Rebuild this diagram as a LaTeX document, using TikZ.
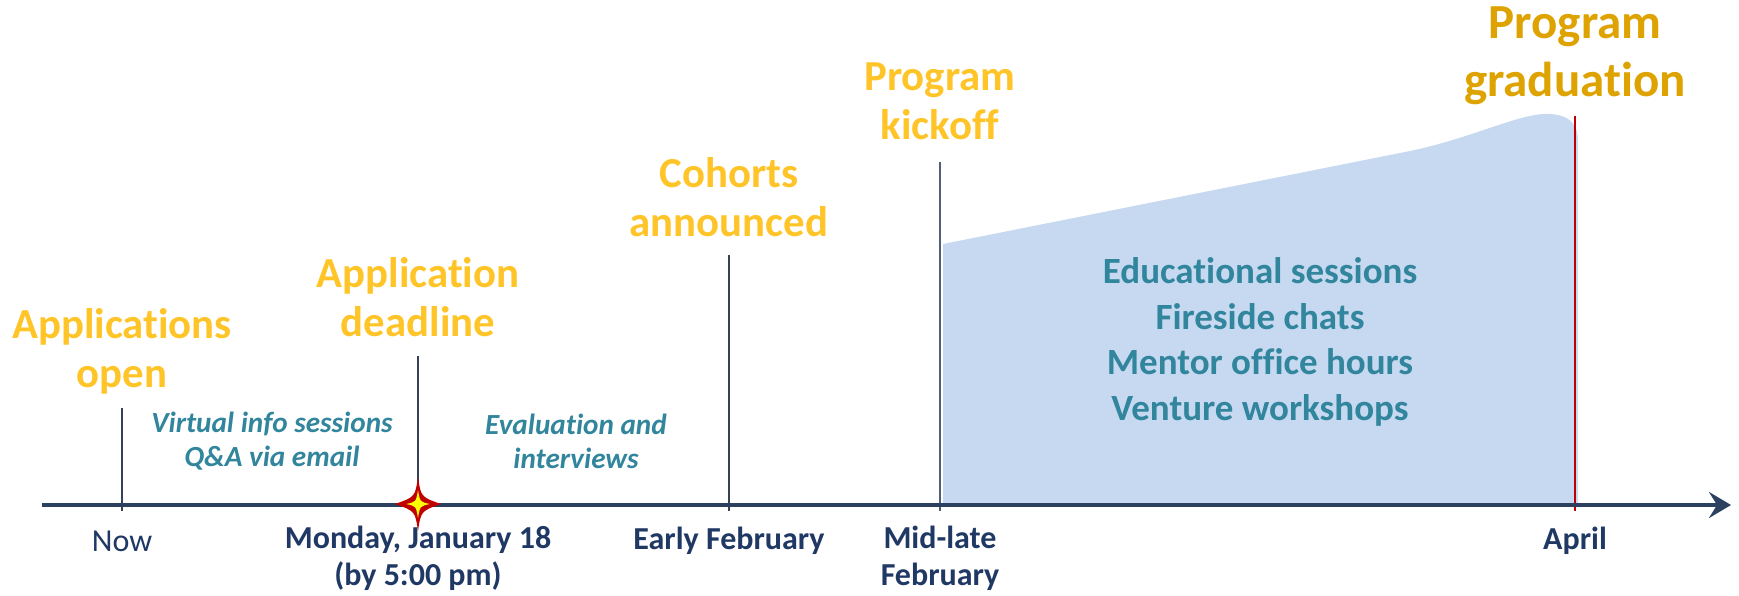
\documentclass[tikz,border=0pt]{standalone}
\usepackage{fontspec}
\setmainfont{Carlito}[Ligatures=NoCommon]
\usetikzlibrary{arrows.meta}
\definecolor{gold}{RGB}{255,196,40}
\definecolor{darkgold}{RGB}{222,163,0}
\definecolor{navy}{RGB}{31,56,100}
\definecolor{axiscol}{RGB}{44,64,96}
\definecolor{tealtext}{RGB}{49,133,156}
\definecolor{areafill}{RGB}{198,217,240}
\definecolor{tickcol}{RGB}{55,65,85}
\definecolor{starred}{RGB}{192,0,0}
\definecolor{staryellow}{RGB}{255,255,0}
\begin{document}
\begin{tikzpicture}[x=0.5pt,y=-0.5pt,
  milestone/.style={text=gold, font=\fontsize{21.4}{24.5}\selectfont\bfseries, align=center, inner sep=0},
  datelabel/.style={text=navy, font=\fontsize{16}{18.5}\selectfont\bfseries, align=center, inner sep=0},
  notetext/.style={text=tealtext, font=\fontsize{14.6}{17}\selectfont\bfseries\itshape, align=center, inner sep=0},
  activity/.style={text=tealtext, font=\fontsize{18.5}{22.8}\selectfont\bfseries, align=center, inner sep=0},
  tickline/.style={draw=tickcol, line width=0.7pt},
  axisline/.style={draw=axiscol, line width=2.3pt, -{Stealth[length=11pt,width=13pt,inset=4pt]}},
]
\useasboundingbox (0,0) rectangle (1739,595);

% program area
\path[fill=areafill] (943,505) -- (943,244) -- (1400,153)
  .. controls (1470,140) and (1520,112) .. (1550,114)
  .. controls (1570,115) and (1578,125) .. (1578,140)
  -- (1578,505) -- cycle;

% coordinates
\coordinate (axis-start) at (42,505);
\coordinate (axis-end) at (1731,505);
\coordinate (now-top) at (122,408);
\coordinate (now-bot) at (122,511);
\coordinate (dl-top) at (418,356);
\coordinate (dl-bot) at (418,505);
\coordinate (ef-top) at (729,255);
\coordinate (ef-bot) at (729,511);
\coordinate (ml-top) at (940,162);
\coordinate (ml-bot) at (940,511);
\coordinate (ap-top) at (1575,116);
\coordinate (ap-bot) at (1575,511);

% ticks
\draw[tickline] (now-top) -- (now-bot);
\draw[tickline] (dl-top) -- (dl-bot);
\draw[tickline] (ef-top) -- (ef-bot);
\draw[tickline, draw={rgb,255:red,80;green,95;blue,120}] (ml-top) -- (ml-bot);
\draw[tickline, draw=starred] (ap-top) -- (ap-bot);

% axis
\draw[axisline] (axis-start) -- (axis-end);

% star
\node[inner sep=0, minimum size=0] (star) at (418,504) {};
\fill[starred] (418,477) .. controls (421,497) .. (441,504) .. controls (421,511) .. (418,531)
  .. controls (415,511) .. (395,504) .. controls (415,497) .. (418,477) -- cycle;
\fill[staryellow] (418,490) .. controls (420,502) .. (430,504) .. controls (420,506) .. (418,518)
  .. controls (416,506) .. (406,504) .. controls (416,502) .. (418,490) -- cycle;

% milestones
\node[milestone] (m-open) at (122,351) {Applications\\open};
\node[milestone] (m-deadline) at (418,297) {Application\\deadline};
\node[milestone] (m-cohorts) at (729,197) {Cohorts\\announced};
\node[milestone] (m-kickoff) at (940,101) {Program\\kickoff};
\node[milestone, text=darkgold, font=\fontsize{24.5}{29.2}\selectfont\bfseries] (m-grad) at (1575,56) {Program\\graduation};

% notes
\node[notetext] (n-virtual) at (272,441) {Virtual info sessions\\Q\&A via email};
\node[notetext] (n-eval) at (576,441) {Evaluation and\\interviews};

% activities
\node[activity] (activities) at (1260,342) {Educational sessions\\Fireside chats\\Mentor office hours\\Venture workshops};

% date labels
\node[datelabel, font=\fontsize{16}{18.5}\selectfont] (d-now) at (122,541) {Now};
\node[datelabel] (d-deadline) at (418,558) {Monday, January 18\\(by 5:00 pm)};
\node[datelabel] (d-early) at (729,541) {Early February};
\node[datelabel] (d-mid) at (940,558) {Mid-late\\February};
\node[datelabel] (d-april) at (1575,541) {April};
\end{tikzpicture}
\end{document}
